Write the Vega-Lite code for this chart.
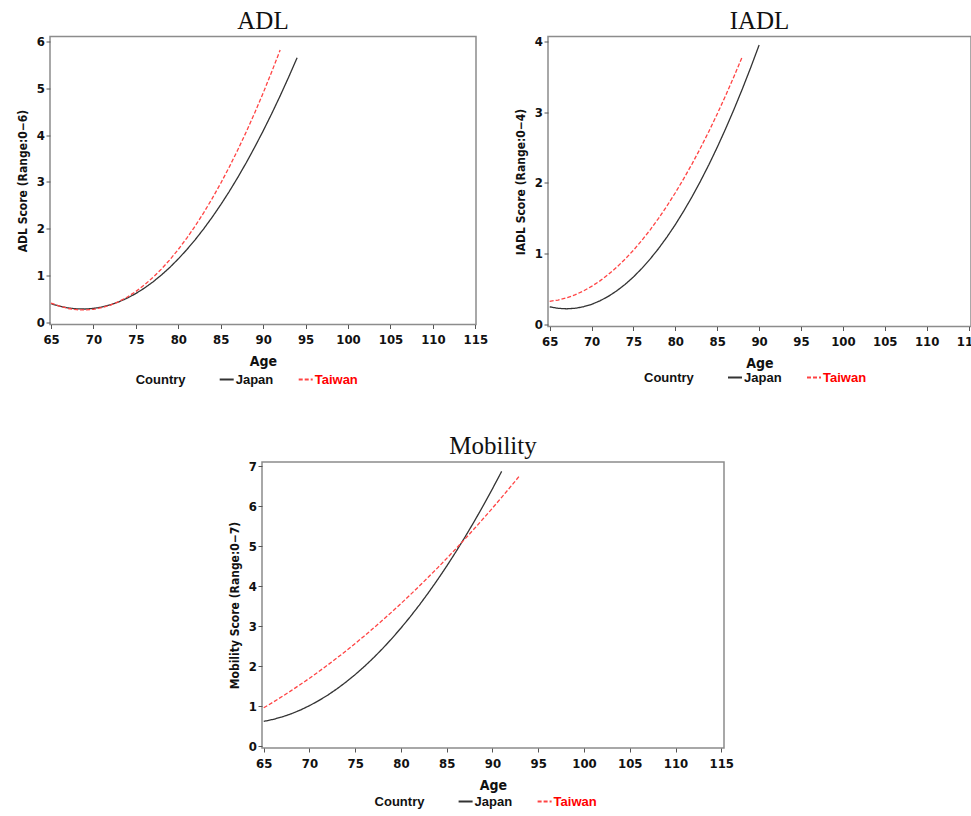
{
  "$schema": "https://vega.github.io/schema/vega-lite/v6.json",
  "padding": {"left": 15, "top": 7.5, "right": 0, "bottom": 0},
  "background": "white",
  "datasets": {
    "adl": [
      {"age":65,"score":0.395,"country":"Japan"},{"age":66,"score":0.341,"country":"Japan"},{"age":67,"score":0.304,"country":"Japan"},{"age":68,"score":0.284,"country":"Japan"},{"age":69,"score":0.281,"country":"Japan"},{"age":70,"score":0.294,"country":"Japan"},{"age":71,"score":0.324,"country":"Japan"},{"age":72,"score":0.371,"country":"Japan"},{"age":73,"score":0.435,"country":"Japan"},{"age":74,"score":0.516,"country":"Japan"},{"age":75,"score":0.613,"country":"Japan"},{"age":76,"score":0.728,"country":"Japan"},{"age":77,"score":0.859,"country":"Japan"},{"age":78,"score":1.007,"country":"Japan"},{"age":79,"score":1.171,"country":"Japan"},{"age":80,"score":1.353,"country":"Japan"},{"age":81,"score":1.551,"country":"Japan"},{"age":82,"score":1.766,"country":"Japan"},{"age":83,"score":1.998,"country":"Japan"},{"age":84,"score":2.247,"country":"Japan"},{"age":85,"score":2.512,"country":"Japan"},{"age":86,"score":2.794,"country":"Japan"},{"age":87,"score":3.093,"country":"Japan"},{"age":88,"score":3.409,"country":"Japan"},{"age":89,"score":3.742,"country":"Japan"},{"age":90,"score":4.091,"country":"Japan"},{"age":91,"score":4.457,"country":"Japan"},{"age":92,"score":4.840,"country":"Japan"},{"age":93,"score":5.240,"country":"Japan"},{"age":94,"score":5.656,"country":"Japan"},
      {"age":65,"score":0.409,"country":"Taiwan"},{"age":66,"score":0.341,"country":"Taiwan"},{"age":67,"score":0.293,"country":"Taiwan"},{"age":68,"score":0.267,"country":"Taiwan"},{"age":69,"score":0.260,"country":"Taiwan"},{"age":70,"score":0.275,"country":"Taiwan"},{"age":71,"score":0.310,"country":"Taiwan"},{"age":72,"score":0.366,"country":"Taiwan"},{"age":73,"score":0.442,"country":"Taiwan"},{"age":74,"score":0.539,"country":"Taiwan"},{"age":75,"score":0.657,"country":"Taiwan"},{"age":76,"score":0.796,"country":"Taiwan"},{"age":77,"score":0.955,"country":"Taiwan"},{"age":78,"score":1.134,"country":"Taiwan"},{"age":79,"score":1.335,"country":"Taiwan"},{"age":80,"score":1.556,"country":"Taiwan"},{"age":81,"score":1.798,"country":"Taiwan"},{"age":82,"score":2.060,"country":"Taiwan"},{"age":83,"score":2.343,"country":"Taiwan"},{"age":84,"score":2.647,"country":"Taiwan"},{"age":85,"score":2.971,"country":"Taiwan"},{"age":86,"score":3.316,"country":"Taiwan"},{"age":87,"score":3.682,"country":"Taiwan"},{"age":88,"score":4.068,"country":"Taiwan"},{"age":89,"score":4.475,"country":"Taiwan"},{"age":90,"score":4.903,"country":"Taiwan"},{"age":91,"score":5.351,"country":"Taiwan"},{"age":92,"score":5.820,"country":"Taiwan"}
    ],
    "iadl": [
      {"age":65,"score":0.248,"country":"Japan"},{"age":66,"score":0.227,"country":"Japan"},{"age":67,"score":0.220,"country":"Japan"},{"age":68,"score":0.227,"country":"Japan"},{"age":69,"score":0.248,"country":"Japan"},{"age":70,"score":0.283,"country":"Japan"},{"age":71,"score":0.333,"country":"Japan"},{"age":72,"score":0.396,"country":"Japan"},{"age":73,"score":0.474,"country":"Japan"},{"age":74,"score":0.565,"country":"Japan"},{"age":75,"score":0.671,"country":"Japan"},{"age":76,"score":0.791,"country":"Japan"},{"age":77,"score":0.925,"country":"Japan"},{"age":78,"score":1.073,"country":"Japan"},{"age":79,"score":1.235,"country":"Japan"},{"age":80,"score":1.411,"country":"Japan"},{"age":81,"score":1.602,"country":"Japan"},{"age":82,"score":1.806,"country":"Japan"},{"age":83,"score":2.025,"country":"Japan"},{"age":84,"score":2.257,"country":"Japan"},{"age":85,"score":2.504,"country":"Japan"},{"age":86,"score":2.765,"country":"Japan"},{"age":87,"score":3.040,"country":"Japan"},{"age":88,"score":3.329,"country":"Japan"},{"age":89,"score":3.632,"country":"Japan"},{"age":90,"score":3.949,"country":"Japan"},
      {"age":65,"score":0.326,"country":"Taiwan"},{"age":66,"score":0.344,"country":"Taiwan"},{"age":67,"score":0.374,"country":"Taiwan"},{"age":68,"score":0.416,"country":"Taiwan"},{"age":69,"score":0.471,"country":"Taiwan"},{"age":70,"score":0.537,"country":"Taiwan"},{"age":71,"score":0.615,"country":"Taiwan"},{"age":72,"score":0.705,"country":"Taiwan"},{"age":73,"score":0.808,"country":"Taiwan"},{"age":74,"score":0.922,"country":"Taiwan"},{"age":75,"score":1.048,"country":"Taiwan"},{"age":76,"score":1.187,"country":"Taiwan"},{"age":77,"score":1.337,"country":"Taiwan"},{"age":78,"score":1.500,"country":"Taiwan"},{"age":79,"score":1.675,"country":"Taiwan"},{"age":80,"score":1.861,"country":"Taiwan"},{"age":81,"score":2.060,"country":"Taiwan"},{"age":82,"score":2.270,"country":"Taiwan"},{"age":83,"score":2.493,"country":"Taiwan"},{"age":84,"score":2.728,"country":"Taiwan"},{"age":85,"score":2.975,"country":"Taiwan"},{"age":86,"score":3.234,"country":"Taiwan"},{"age":87,"score":3.505,"country":"Taiwan"},{"age":88,"score":3.788,"country":"Taiwan"}
    ],
    "mobility": [
      {"age":65,"score":0.620,"country":"Japan"},{"age":66,"score":0.668,"country":"Japan"},{"age":67,"score":0.731,"country":"Japan"},{"age":68,"score":0.809,"country":"Japan"},{"age":69,"score":0.903,"country":"Japan"},{"age":70,"score":1.013,"country":"Japan"},{"age":71,"score":1.137,"country":"Japan"},{"age":72,"score":1.277,"country":"Japan"},{"age":73,"score":1.433,"country":"Japan"},{"age":74,"score":1.604,"country":"Japan"},{"age":75,"score":1.790,"country":"Japan"},{"age":76,"score":1.992,"country":"Japan"},{"age":77,"score":2.209,"country":"Japan"},{"age":78,"score":2.441,"country":"Japan"},{"age":79,"score":2.689,"country":"Japan"},{"age":80,"score":2.953,"country":"Japan"},{"age":81,"score":3.231,"country":"Japan"},{"age":82,"score":3.525,"country":"Japan"},{"age":83,"score":3.835,"country":"Japan"},{"age":84,"score":4.160,"country":"Japan"},{"age":85,"score":4.500,"country":"Japan"},{"age":86,"score":4.856,"country":"Japan"},{"age":87,"score":5.227,"country":"Japan"},{"age":88,"score":5.613,"country":"Japan"},{"age":89,"score":6.015,"country":"Japan"},{"age":90,"score":6.433,"country":"Japan"},{"age":91,"score":6.865,"country":"Japan"},
      {"age":65,"score":0.960,"country":"Taiwan"},{"age":66,"score":1.097,"country":"Taiwan"},{"age":67,"score":1.240,"country":"Taiwan"},{"age":68,"score":1.388,"country":"Taiwan"},{"age":69,"score":1.540,"country":"Taiwan"},{"age":70,"score":1.698,"country":"Taiwan"},{"age":71,"score":1.862,"country":"Taiwan"},{"age":72,"score":2.030,"country":"Taiwan"},{"age":73,"score":2.204,"country":"Taiwan"},{"age":74,"score":2.383,"country":"Taiwan"},{"age":75,"score":2.567,"country":"Taiwan"},{"age":76,"score":2.756,"country":"Taiwan"},{"age":77,"score":2.950,"country":"Taiwan"},{"age":78,"score":3.150,"country":"Taiwan"},{"age":79,"score":3.354,"country":"Taiwan"},{"age":80,"score":3.564,"country":"Taiwan"},{"age":81,"score":3.780,"country":"Taiwan"},{"age":82,"score":4.000,"country":"Taiwan"},{"age":83,"score":4.225,"country":"Taiwan"},{"age":84,"score":4.456,"country":"Taiwan"},{"age":85,"score":4.692,"country":"Taiwan"},{"age":86,"score":4.933,"country":"Taiwan"},{"age":87,"score":5.179,"country":"Taiwan"},{"age":88,"score":5.431,"country":"Taiwan"},{"age":89,"score":5.688,"country":"Taiwan"},{"age":90,"score":5.949,"country":"Taiwan"},{"age":91,"score":6.216,"country":"Taiwan"},{"age":92,"score":6.489,"country":"Taiwan"},{"age":93,"score":6.766,"country":"Taiwan"}
    ]
  },
  "vconcat": [
    {
      "hconcat": [
        {
          "width": 426, "height": 288,
          "data": {"name": "adl"},
          "title": {"text": "ADL"},
          "mark": {"type": "line", "strokeWidth": 1.3},
          "encoding": {
            "x": {"field": "age", "type": "quantitative", "scale": {"domain": [64.88, 115.08], "nice": false, "zero": false}, "axis": {"values": [65,70,75,80,85,90,95,100,105,110,115], "title": "Age"}},
            "y": {"field": "score", "type": "quantitative", "scale": {"domain": [-0.05, 6.11], "nice": false}, "axis": {"values": [0,1,2,3,4,5,6], "title": "ADL Score (Range:0\u22126)"}},
            "color": {"field": "country", "type": "nominal", "scale": {"domain": ["Japan","Taiwan"], "range": ["#333333","#ff4444"]}, "legend": {"title": "Country", "legendX": 85.7, "legendY": 335, "encode": {"labels": {"update": {"fill": {"signal": "datum.value === 'Taiwan' ? '#ff0000' : '#111111'"}}}, "symbols": {"update": {"strokeDash": {"signal": "datum.value === 'Taiwan' ? [3,2] : [1,0]"}}}}}},
            "strokeDash": {"field": "country", "type": "nominal", "scale": {"domain": ["Japan","Taiwan"], "range": [[1,0],[4,2]]}, "legend": null}
          }
        },
        {
          "width": 423, "height": 290,
          "data": {"name": "iadl"},
          "title": {"text": "IADL"},
          "mark": {"type": "line", "strokeWidth": 1.3},
          "encoding": {
            "x": {"field": "age", "type": "quantitative", "scale": {"domain": [64.8, 115.29], "nice": false, "zero": false}, "axis": {"values": [65,70,75,80,85,90,95,100,105,110,115], "title": "Age"}},
            "y": {"field": "score", "type": "quantitative", "scale": {"domain": [-0.03, 4.07], "nice": false}, "axis": {"values": [0,1,2,3,4], "title": "IADL Score (Range:0\u22124)"}},
            "color": {"field": "country", "type": "nominal", "scale": {"domain": ["Japan","Taiwan"], "range": ["#333333","#ff4444"]}, "legend": {"title": "Country", "legendX": 96, "legendY": 333, "encode": {"labels": {"update": {"fill": {"signal": "datum.value === 'Taiwan' ? '#ff0000' : '#111111'"}}}, "symbols": {"update": {"strokeDash": {"signal": "datum.value === 'Taiwan' ? [3,2] : [1,0]"}}}}}},
            "strokeDash": {"field": "country", "type": "nominal", "scale": {"domain": ["Japan","Taiwan"], "range": [[1,0],[4,2]]}, "legend": null}
          }
        }
      ],
      "spacing": 24,
      "resolve": {"scale": {"x": "independent", "y": "independent", "color": "independent", "strokeDash": "independent"}, "legend": {"color": "independent", "strokeDash": "independent"}}
    },
    {
      "hconcat": [
        {
          "width": 177, "height": 10,
          "view": {"stroke": null},
          "data": {"values": []},
          "mark": "point",
          "encoding": {}
        },
        {
          "width": 462, "height": 286,
          "data": {"name": "mobility"},
          "title": {"text": "Mobility"},
          "mark": {"type": "line", "strokeWidth": 1.3},
          "encoding": {
            "x": {"field": "age", "type": "quantitative", "scale": {"domain": [64.81, 115.3], "nice": false, "zero": false}, "axis": {"values": [65,70,75,80,85,90,95,100,105,110,115], "title": "Age"}},
            "y": {"field": "score", "type": "quantitative", "scale": {"domain": [-0.045, 7.1], "nice": false}, "axis": {"values": [0,1,2,3,4,5,6,7], "title": "Mobility Score (Range:0\u22127)"}},
            "color": {"field": "country", "type": "nominal", "scale": {"domain": ["Japan","Taiwan"], "range": ["#333333","#ff4444"]}, "legend": {"title": "Country", "legendX": 112.6, "legendY": 331.5, "encode": {"labels": {"update": {"fill": {"signal": "datum.value === 'Taiwan' ? '#ff0000' : '#111111'"}}}, "symbols": {"update": {"strokeDash": {"signal": "datum.value === 'Taiwan' ? [3,2] : [1,0]"}}}}}},
            "strokeDash": {"field": "country", "type": "nominal", "scale": {"domain": ["Japan","Taiwan"], "range": [[1,0],[4,2]]}, "legend": null}
          }
        }
      ],
      "spacing": 0,
      "resolve": {"scale": {"color": "independent", "strokeDash": "independent"}, "legend": {"color": "independent", "strokeDash": "independent"}}
    }
  ],
  "spacing": 44.5,
  "resolve": {"scale": {"color": "independent", "strokeDash": "independent"}, "legend": {"color": "independent", "strokeDash": "independent"}},
  "config": {
    "view": {"stroke": "#8c8c8c", "strokeWidth": 1.5},
    "title": {"font": "Liberation Serif", "fontSize": 25, "fontWeight": "normal", "color": "#111111", "anchor": "middle", "offset": 1.5, "baseline": "alphabetic"},
    "axis": {"domain": false, "grid": false, "tickColor": "#555555", "tickSize": 4, "labelFont": "DejaVu Sans Condensed, Liberation Sans", "labelFontSize": 13, "labelFontWeight": "bold", "labelColor": "#111111", "titleFont": "DejaVu Sans Condensed, Liberation Sans", "titleFontSize": 13, "titleFontWeight": "bold", "titleColor": "#111111", "labelOverlap": false, "labelFlush": false},
    "axisX": {"labelPadding": 5, "titlePadding": 8, "titleFontSize": 14},
    "axisY": {"labelPadding": 1.5, "titlePadding": 7, "titleFontSize": 12},
    "legend": {"orient": "none", "direction": "horizontal", "titleOrient": "left", "titleFont": "Liberation Sans", "titleFontSize": 13, "titleFontWeight": "bold", "titleColor": "#111111", "titlePadding": 33, "labelFont": "Liberation Sans", "labelFontSize": 13, "labelFontWeight": "bold", "symbolType": "stroke", "symbolSize": 196, "symbolStrokeWidth": 2, "labelOffset": 1, "columnPadding": 21, "padding": 0}
  }
}
